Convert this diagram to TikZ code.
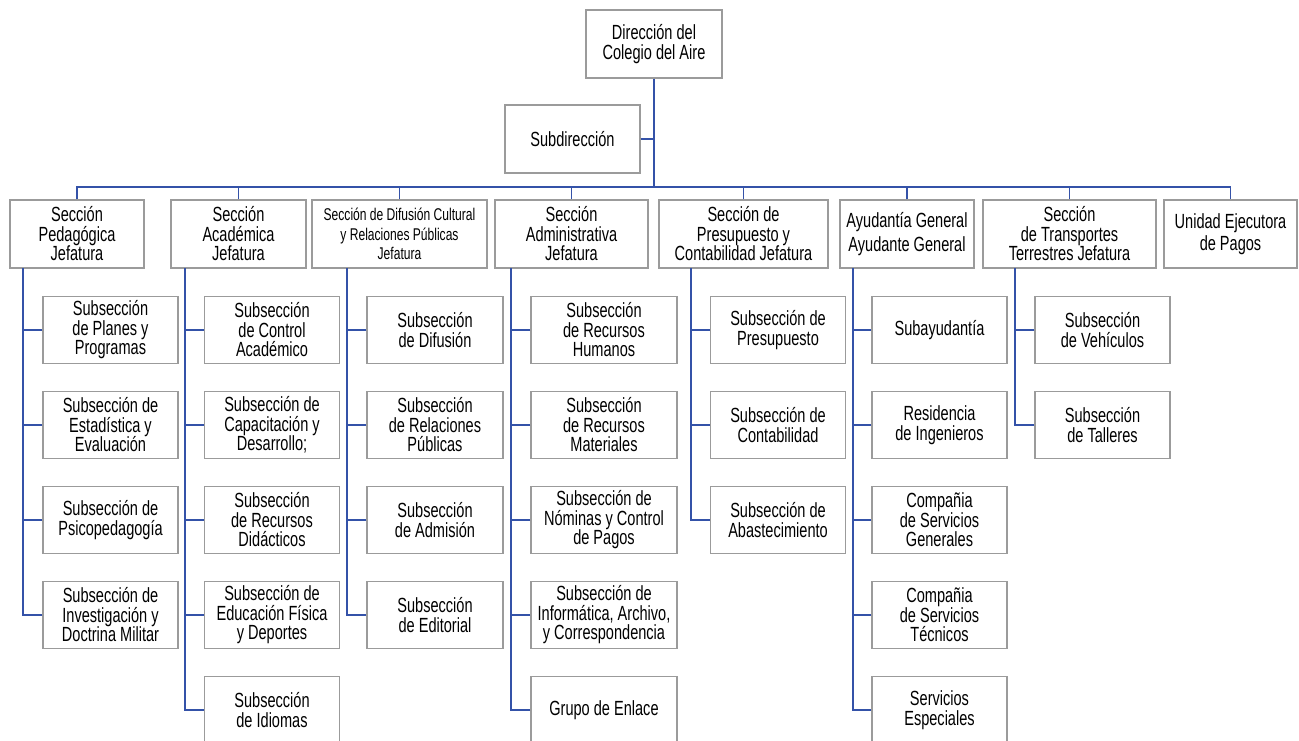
\documentclass[tikz,border=0pt]{standalone}
\usepackage{fontspec}
\setmainfont{Liberation Sans}[FakeStretch=0.71]
\definecolor{linkblue}{RGB}{52,82,168}
\definecolor{boxgray}{RGB}{155,155,155}
\newcommand{\boxtext}{\fontsize{20.5}{19.5}\selectfont\lineskiplimit=-20pt}
\newcommand{\smalltext}{\fontsize{17}{19.5}\selectfont\lineskiplimit=-20pt}

\begin{document}
\begin{tikzpicture}[x=1pt,y=-1pt,
  unit/.style={draw=boxgray,line width=1.2pt,align=center,inner sep=0pt,minimum height=68pt,font=\boxtext},
  subunit/.style={unit,minimum height=67pt,minimum width=135pt},
  link/.style={draw=linkblue,line width=1.5pt}]
\useasboundingbox (0,0) rectangle (1299,741);
\clip (0,0) rectangle (1299,741);

% top
\node[unit,minimum width=136pt] (dir) at (654,44) {Dirección del\\Colegio del Aire};
\node[unit,minimum width=135pt] (subdir) at (572.5,139) {Subdirección};
\coordinate (bus) at (654,187);

% sections
\node[unit,minimum width=134pt] (pedag) at (77,234) {Sección\\Pedagógica\\Jefatura};
\node[unit,minimum width=135pt] (acad) at (238.5,234) {Sección\\Académica\\Jefatura};
\node[unit,minimum width=175pt,font=\smalltext] (difus) at (399.5,234) {Sección de Difusión Cultural\\y Relaciones Públicas\\Jefatura};
\node[unit,minimum width=153pt] (admin) at (571.5,234) {Sección\\Administrativa\\Jefatura};
\node[unit,minimum width=169pt] (presu) at (743.5,234) {Sección de\\Presupuesto y\\Contabilidad Jefatura};
\node[unit,minimum width=134pt] (ayud) at (907,234) {Ayudantía General\\[4pt]Ayudante General};
\node[unit,minimum width=173pt] (transp) at (1069.5,234) {Sección\\de Transportes\\Terrestres Jefatura};
\node[unit,minimum width=133pt] (unidad) at (1230.5,234) {Unidad Ejecutora\\[2pt]de Pagos};

% Pedagogica
\node[subunit] (pedag1) at (110.5,330) {Subsección\\de Planes y\\Programas};
\node[subunit] (pedag2) at (110.5,425) {Subsección de\\Estadística y\\Evaluación};
\node[subunit] (pedag3) at (110.5,520) {Subsección de\\Psicopedagogía};
\node[subunit] (pedag4) at (110.5,615) {Subsección de\\Investigación y\\Doctrina Militar};

% Academica
\node[subunit] (acad1) at (272,330) {Subsección\\de Control\\Académico};
\node[subunit] (acad2) at (272,425) {Subsección de\\Capacitación y\\Desarrollo;};
\node[subunit] (acad3) at (272,520) {Subsección\\de Recursos\\Didácticos};
\node[subunit] (acad4) at (272,615) {Subsección de\\Educación Física\\y Deportes};
\node[subunit] (acad5) at (272,710) {Subsección\\de Idiomas};

% Difusion
\node[subunit,minimum width=136pt] (difus1) at (435,330) {Subsección\\de Difusión};
\node[subunit,minimum width=136pt] (difus2) at (435,425) {Subsección\\de Relaciones\\Públicas};
\node[subunit,minimum width=136pt] (difus3) at (435,520) {Subsección\\de Admisión};
\node[subunit,minimum width=136pt] (difus4) at (435,615) {Subsección\\de Editorial};

% Administrativa
\node[subunit,minimum width=146pt] (admin1) at (604,330) {Subsección\\de Recursos\\Humanos};
\node[subunit,minimum width=146pt] (admin2) at (604,425) {Subsección\\de Recursos\\Materiales};
\node[subunit,minimum width=146pt] (admin3) at (604,520) {Subsección de\\Nóminas y Control\\de Pagos};
\node[subunit,minimum width=146pt] (admin4) at (604,615) {Subsección de\\Informática, Archivo,\\y Correspondencia};
\node[subunit,minimum width=146pt] (admin5) at (604,710) {Grupo de Enlace};

% Presupuesto
\node[subunit] (presu1) at (778,330) {Subsección de\\Presupuesto};
\node[subunit] (presu2) at (778,425) {Subsección de\\Contabilidad};
\node[subunit] (presu3) at (778,520) {Subsección de\\Abastecimiento};

% Ayudantia
\node[subunit] (ayud1) at (939.5,330) {Subayudantía};
\node[subunit] (ayud2) at (939.5,425) {Residencia\\de Ingenieros};
\node[subunit] (ayud3) at (939.5,520) {Compañia\\de Servicios\\Generales};
\node[subunit] (ayud4) at (939.5,615) {Compañia\\de Servicios\\Técnicos};
\node[subunit] (ayud5) at (939.5,710) {Servicios\\Especiales};

% Transportes
\node[subunit] (transp1) at (1102.5,330) {Subsección\\de Vehículos};
\node[subunit] (transp2) at (1102.5,425) {Subsección\\de Talleres};

% lines
\draw[link] (dir.south) -- (bus);
\draw[link] (subdir.east) -- (subdir.east -| bus);
\draw[link] (pedag.north) |- (bus) -| (unidad.north);
\foreach \n in {acad,difus,admin,presu,ayud,transp}
  \draw[link] (\n.north) -- (\n.north |- bus);

\coordinate (pedagspine) at (23,268);
\coordinate (acadspine) at (185,268);
\coordinate (difusspine) at (347,268);
\coordinate (adminspine) at (511,268);
\coordinate (presuspine) at (691,268);
\coordinate (ayudspine) at (853,268);
\coordinate (transpspine) at (1015,268);

\foreach \n/\k in {pedag/4,acad/5,difus/4,admin/5,presu/3,ayud/5,transp/2}{
  \draw[link] (\n spine) |- (\n\k.west);
  \foreach \i in {1,...,\k}
    \draw[link] (\n\i.west) -- (\n\i.west -| \n spine);
}
\end{tikzpicture}
\end{document}
